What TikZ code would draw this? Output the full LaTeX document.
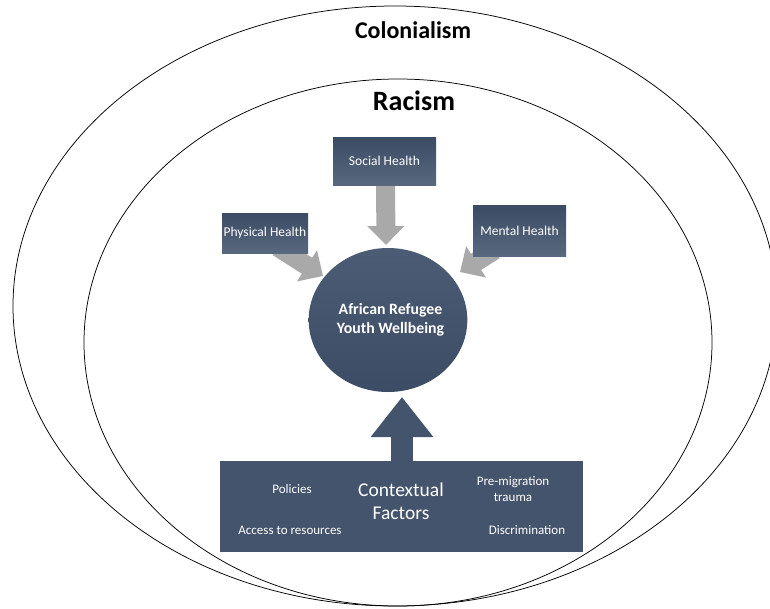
\documentclass[tikz,border=0pt]{standalone}
\usepackage{fontspec}
\setmainfont{Carlito}
\usetikzlibrary{arrows.meta,shapes.geometric,calc}
\pgfdeclarelayer{background}
\pgfsetlayers{background,main}
\definecolor{slate}{HTML}{44546C}
\definecolor{slatetop}{HTML}{3B4B64}
\definecolor{slatebot}{HTML}{58687E}
\definecolor{circtop}{HTML}{4C5C74}
\definecolor{circbot}{HTML}{3C4C65}
\definecolor{arrowgray}{HTML}{A9A9A9}
\begin{document}
\begin{tikzpicture}[x=1pt,y=-1pt,
  ring/.style={draw=black, line width=0.75pt, ellipse, inner sep=0pt},
  ringlabel/.style={font=\bfseries\fontsize{#1}{#1}\selectfont, text=black, inner sep=0pt},
  healthbox/.style={rectangle, top color=slatetop, bottom color=slatebot, text=white,
    font=\fontsize{13.5}{16}\selectfont, inner sep=0pt},
  smalllabel/.style={text=white, font=\fontsize{13}{16}\selectfont, align=center, inner sep=0pt},
  grayarrow/.style={draw=arrowgray, line width=19pt, -{Triangle[length=19pt,width=36pt]}},
  darkarrow/.style={draw=slate, line width=22pt, -{Triangle[length=40pt,width=60pt]}}
]
\useasboundingbox (0,0) rectangle (770,608);
\begin{pgfonlayer}{background}
\fill[white] (0,0) rectangle (770,608);
\end{pgfonlayer}
\clip (0,0) rectangle (770,608);

% nested contexts
\begin{pgfonlayer}{background}
\node[ring, minimum width=764pt, minimum height=600pt] (colonial) at (395,306) {};
\node[ring, minimum width=628pt, minimum height=527pt] (racism) at (398,342.5) {};
\end{pgfonlayer}
\node[ringlabel=24] (colonlab) at (413,30) {Colonialism};
\node[ringlabel=28] (raclab) at (414,101) {Racism};

% health boxes
\node[healthbox, minimum width=103pt, minimum height=48pt] (social) at (384.5,161) {Social Health};
\node[healthbox, minimum width=86pt, minimum height=40pt] (physical) at (265,233) {Physical Health};
\node[healthbox, minimum width=93pt, minimum height=51pt] (mental) at (519.5,230.5) {Mental Health};

% central wellbeing
\node[ellipse, minimum width=154pt, minimum height=144pt, inner sep=0pt,
      top color=circtop, bottom color=circbot, text=white, align=center,
      font=\bfseries\fontsize{15.8}{19}\selectfont] (well) at (388,320)
      {\hspace*{5pt}\raisebox{-2pt}{African Refugee}\\\hspace*{5pt}\raisebox{-2pt}{Youth Wellbeing}};

% arrow end points
\coordinate (stip) at (386,245);
\coordinate (ptip) at (323,276);
\coordinate (mtip) at (460,272);
\coordinate (utip) at (402,397);

% gray arrows, behind the boxes
\begin{pgfonlayer}{background}
\draw[grayarrow] ($(social.south)+(1,-4)$) -- (stip);
\draw[grayarrow] ($(physical.south)+(13,-6)$) -- (ptip);
\draw[grayarrow] ($(mental.south)+(-25,-6)$) -- (mtip);
\end{pgfonlayer}

% contextual factors
\node[rectangle, fill=slate, minimum width=363pt, minimum height=91pt, inner sep=0pt] (ctx) at (401.5,506.5) {};
\draw[darkarrow] ($(ctx.north)+(0.5,1)$) -- (utip);

\node[text=white, font=\fontsize{19.5}{23}\selectfont, align=center, inner sep=0pt] (ctxlab) at (401,501) {Contextual\\Factors};
\node[smalllabel] (policies) at (292,489) {Policies};
\node[smalllabel] (access) at (290,530) {Access to resources};
\node[smalllabel] (trauma) at (513,489) {Pre-migration\\trauma};
\node[smalllabel] (discrim) at (527,530) {Discrimination};
\end{tikzpicture}
\end{document}
